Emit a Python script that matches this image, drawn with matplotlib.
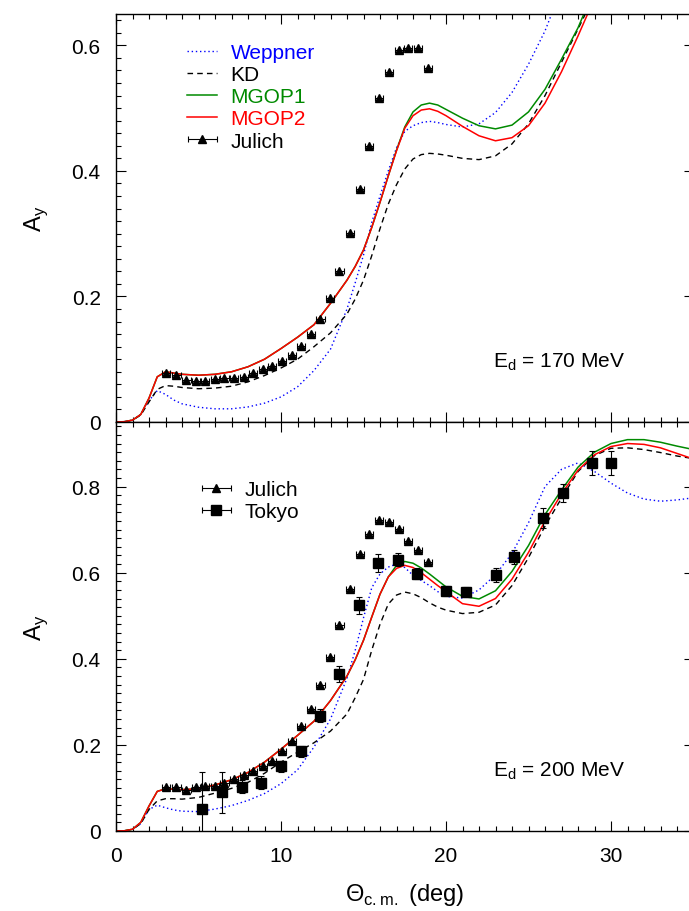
import numpy as np
import matplotlib
matplotlib.use("Agg")
import matplotlib.pyplot as plt
from matplotlib.ticker import MultipleLocator, FixedLocator, FixedFormatter
from matplotlib.legend_handler import HandlerErrorbar

plt.rcParams['font.family'] = ['Liberation Sans', 'DejaVu Sans']
plt.rcParams['mathtext.fontset'] = 'custom'
plt.rcParams['mathtext.rm'] = 'Liberation Sans'

# ---------------- data ----------------
theta = [0, 0.5, 1, 1.5, 2, 2.5, 3, 3.5, 4, 5, 6, 7, 8, 9, 10, 11, 12, 13, 14, 14.5,
         15, 15.5, 16, 16.5, 17, 17.5, 18, 18.5, 19, 19.5, 20, 21, 22, 23, 24, 25,
         26, 27, 28, 29, 30, 31, 32, 33, 34, 35]

# Ed = 170 MeV
wep_170 = [0, 0.0005, 0.003, 0.012, 0.034, 0.050, 0.044, 0.035, 0.029, 0.0235, 0.021, 0.021,
           0.024, 0.030, 0.040, 0.056, 0.082, 0.116, 0.180, 0.222, 0.266, 0.318, 0.360, 0.400,
           0.437, 0.463, 0.472, 0.477, 0.479, 0.477, 0.474, 0.470, 0.475, 0.493, 0.525, 0.570,
           0.623, 0.690, 0.760, 0.830, 0.900, 0.95, 1.0, 1.05, 1.1, 1.15]
kd_170 = [0, 0.0005, 0.003, 0.011, 0.032, 0.052, 0.058, 0.057, 0.055, 0.053, 0.054, 0.057,
          0.064, 0.074, 0.086, 0.100, 0.120, 0.142, 0.172, 0.196, 0.226, 0.265, 0.308, 0.347,
          0.378, 0.403, 0.419, 0.426, 0.428, 0.427, 0.425, 0.420, 0.418, 0.424, 0.443, 0.475,
          0.520, 0.573, 0.626, 0.680, 0.735, 0.79, 0.84, 0.88, 0.91, 0.93]
mgop1_170 = [0, 0.0005, 0.003, 0.012, 0.038, 0.072, 0.080, 0.078, 0.076, 0.0745, 0.076, 0.080,
             0.088, 0.100, 0.117, 0.135, 0.155, 0.189, 0.226, 0.248, 0.274, 0.310, 0.350, 0.392,
             0.433, 0.470, 0.494, 0.505, 0.508, 0.505, 0.498, 0.484, 0.472, 0.467, 0.473, 0.494,
             0.530, 0.578, 0.628, 0.690, 0.750, 0.80, 0.85, 0.89, 0.92, 0.94]
mgop2_170 = [0, 0.0005, 0.003, 0.012, 0.038, 0.072, 0.080, 0.078, 0.076, 0.0745, 0.076, 0.080,
             0.088, 0.100, 0.117, 0.135, 0.155, 0.189, 0.226, 0.248, 0.274, 0.310, 0.350, 0.392,
             0.432, 0.468, 0.488, 0.497, 0.499, 0.495, 0.488, 0.471, 0.456, 0.448, 0.453, 0.472,
             0.508, 0.558, 0.615, 0.675, 0.735, 0.79, 0.84, 0.88, 0.91, 0.93]

# Ed = 200 MeV
wep_200 = [0, 0.0005, 0.004, 0.017, 0.050, 0.060, 0.054, 0.049, 0.046, 0.045, 0.051, 0.059,
           0.071, 0.087, 0.110, 0.142, 0.195, 0.260, 0.355, 0.420, 0.495, 0.565, 0.597, 0.613,
           0.620, 0.612, 0.594, 0.582, 0.570, 0.556, 0.545, 0.541, 0.560, 0.595, 0.645, 0.716,
           0.800, 0.840, 0.855, 0.835, 0.808, 0.785, 0.771, 0.766, 0.769, 0.774]
kd_200 = [0, 0.0005, 0.004, 0.017, 0.050, 0.070, 0.075, 0.075, 0.074, 0.078, 0.088, 0.099,
          0.113, 0.134, 0.160, 0.183, 0.205, 0.232, 0.272, 0.310, 0.352, 0.420, 0.480, 0.527,
          0.548, 0.555, 0.551, 0.542, 0.530, 0.520, 0.513, 0.505, 0.508, 0.525, 0.570, 0.635,
          0.708, 0.773, 0.835, 0.872, 0.889, 0.890, 0.886, 0.879, 0.871, 0.865]
mgop1_200 = [0, 0.0005, 0.004, 0.020, 0.058, 0.092, 0.098, 0.097, 0.096, 0.098, 0.107, 0.119,
             0.136, 0.160, 0.190, 0.222, 0.255, 0.303, 0.360, 0.398, 0.443, 0.497, 0.550, 0.590,
             0.617, 0.626, 0.622, 0.611, 0.597, 0.582, 0.567, 0.545, 0.539, 0.558, 0.603, 0.663,
             0.735, 0.792, 0.845, 0.880, 0.900, 0.909, 0.909, 0.903, 0.894, 0.886]
mgop2_200 = [0, 0.0005, 0.004, 0.020, 0.058, 0.092, 0.098, 0.097, 0.096, 0.098, 0.107, 0.119,
             0.136, 0.160, 0.190, 0.222, 0.255, 0.303, 0.360, 0.398, 0.443, 0.497, 0.550, 0.590,
             0.610, 0.617, 0.612, 0.600, 0.585, 0.570, 0.556, 0.528, 0.522, 0.540, 0.585, 0.647,
             0.720, 0.783, 0.838, 0.874, 0.893, 0.900, 0.898, 0.890, 0.877, 0.864]

# Julich data (same angles at both energies)
theta_julich = [3.05, 3.66, 4.27, 4.83, 5.39, 6.0, 6.57, 7.17, 7.74, 8.32, 8.91, 9.47, 10.08,
                10.65, 11.23, 11.80, 12.39, 12.98, 13.54, 14.16, 14.77, 15.35, 15.94, 16.55,
                17.13, 17.71, 18.30, 18.90]
julich_170 = [0.0776, 0.0754, 0.067, 0.066, 0.065, 0.0685, 0.070, 0.070, 0.072, 0.078, 0.0845,
              0.0887, 0.0977, 0.106, 0.1206, 0.1397, 0.164, 0.197, 0.2406, 0.3017, 0.371, 0.439,
              0.516, 0.557, 0.593, 0.5957, 0.5966, 0.5636]
julich_200 = [0.1016, 0.1016, 0.0961, 0.1016, 0.1054, 0.1054, 0.1116, 0.121, 0.130, 0.1388,
              0.152, 0.1636, 0.185, 0.2085, 0.245, 0.2837, 0.338, 0.405, 0.4775, 0.563, 0.6426,
              0.690, 0.7217, 0.718, 0.7016, 0.674, 0.6535, 0.625]
julich_xerr = 0.25

# Tokyo data (200 MeV)
theta_tokyo = [5.23, 6.44, 7.62, 8.81, 9.98, 11.19, 12.38, 13.52, 14.73, 15.90, 17.11, 18.26,
               20.02, 21.23, 23.01, 24.14, 25.90, 27.09, 28.87, 30.02]
tokyo_200 = [0.051, 0.090, 0.103, 0.112, 0.150, 0.185, 0.268, 0.365, 0.524, 0.6225, 0.630,
             0.598, 0.557, 0.555, 0.595, 0.636, 0.727, 0.785, 0.855, 0.855]
tokyo_err = [0.085, 0.048, 0.015, 0.015, 0.012, 0.012, 0.015, 0.018, 0.020, 0.020, 0.015,
             0.012, 0.012, 0.012, 0.016, 0.016, 0.024, 0.020, 0.028, 0.027]

xticks = [0, 10, 20, 30]
xticklabels = ['0', '10', '20', '30']
yticks_170 = [0, 0.2, 0.4, 0.6]
yticklabels_170 = ['0', '0.2', '0.4', '0.6']
yticks_200 = [0, 0.2, 0.4, 0.6, 0.8]
yticklabels_200 = ['0', '0.2', '0.4', '0.6', '0.8']

# ---------------- figure ----------------
W, H = 689, 912
fig = plt.figure(figsize=(W / 100, H / 100), dpi=100)

x0 = 116
axw = 35 * 16.5
ax1 = fig.add_axes([x0 / W, (H - 423) / H, axw / W, 408 / H])
ax2 = fig.add_axes([x0 / W, (H - 832) / H, axw / W, 409 / H])

BLUE = '#0000ff'
GREEN = '#008a00'
RED = '#ff0000'

def curves(ax, wep, kd, m1, m2):
    ax.plot(theta, wep, color=BLUE, lw=1.0, ls=(0, (1, 2)), label='Weppner')
    ax.plot(theta, kd, color='black', lw=1.0, ls=(0, (4, 3)), label='KD')
    ax.plot(theta, m1, color=GREEN, lw=1.1, label='MGOP1')
    ax.plot(theta, m2, color=RED, lw=1.1, label='MGOP2')

curves(ax1, wep_170, kd_170, mgop1_170, mgop2_170)
ej1 = ax1.errorbar(theta_julich, julich_170, xerr=julich_xerr, fmt='^', color='black',
                   ms=6, elinewidth=0.8, capsize=2, capthick=0.8, label='Julich')

curves(ax2, wep_200, kd_200, mgop1_200, mgop2_200)
ej2 = ax2.errorbar(theta_julich, julich_200, xerr=julich_xerr, fmt='^', color='black',
                   ms=6, elinewidth=0.8, capsize=2, capthick=0.8, label='Julich')
et2 = ax2.errorbar(theta_tokyo, tokyo_200, yerr=tokyo_err, fmt='s', color='black',
                   ms=7, elinewidth=0.8, capsize=2, capthick=0.8, label='Tokyo')

for ax, yt, ytl, ytop in [(ax1, yticks_170, yticklabels_170, 0.65),
                          (ax2, yticks_200, yticklabels_200, 0.95)]:
    ax.set_xlim(0, 35)
    ax.set_ylim(0, ytop)
    ax.xaxis.set_major_locator(FixedLocator(xticks))
    ax.xaxis.set_minor_locator(MultipleLocator(1))
    ax.yaxis.set_major_locator(FixedLocator(yt))
    ax.yaxis.set_major_formatter(FixedFormatter(ytl))
    ax.yaxis.set_minor_locator(MultipleLocator(0.02))
    ax.tick_params(which='both', direction='in', top=True, right=True, labelsize=15,
                   width=0.8)
    ax.tick_params(which='major', length=7, pad=11)
    ax.tick_params(which='minor', length=3.5)
    for s in ax.spines.values():
        s.set_linewidth(1.0)
    ax.set_ylabel(r'A$_\mathregular{y}$', fontsize=17)
    ax.yaxis.set_label_coords(-0.115, 0.5)

ax1.tick_params(axis='x', labelbottom=False)
ax2.xaxis.set_major_formatter(FixedFormatter(xticklabels))
ax2.set_xlabel('\u0398$_\\mathregular{c.m.}$ (deg)', fontsize=17, labelpad=11)

ax1.text(22.85, 0.088, r'E$_\mathregular{d}$ = 170 MeV', fontsize=15, ha='left', va='baseline')
ax2.text(22.85, 0.128, r'E$_\mathregular{d}$ = 200 MeV', fontsize=15, ha='left', va='baseline')

hm = {type(ej1): HandlerErrorbar(xerr_size=0.7)}
leg1 = ax1.legend(loc='upper left', bbox_to_anchor=(187 / W, 1 - 44 / H),
                  bbox_transform=fig.transFigure, frameon=False, fontsize=15,
                  handlelength=1.45, handletextpad=0.65, labelspacing=0.15,
                  borderpad=0, borderaxespad=0, handler_map=hm)
for t, c in zip(leg1.get_texts(), [BLUE, 'black', GREEN, RED, 'black']):
    t.set_color(c)

hj = ax2.errorbar([np.nan], [np.nan], xerr=[1], fmt='^', color='black', ms=6,
                  elinewidth=0.8, capsize=2, capthick=0.8)
ht = ax2.errorbar([np.nan], [np.nan], xerr=[1], fmt='s', color='black', ms=7,
                  elinewidth=0.8, capsize=2, capthick=0.8)
leg2 = ax2.legend([hj, ht], ['Julich', 'Tokyo'], loc='upper left',
                  bbox_to_anchor=(201 / W, 1 - 481 / H), bbox_transform=fig.transFigure,
                  frameon=False, fontsize=15, handlelength=1.45, handletextpad=0.65,
                  labelspacing=0.15, borderpad=0, borderaxespad=0, handler_map=hm)

fig.savefig('out.png', dpi=100)
